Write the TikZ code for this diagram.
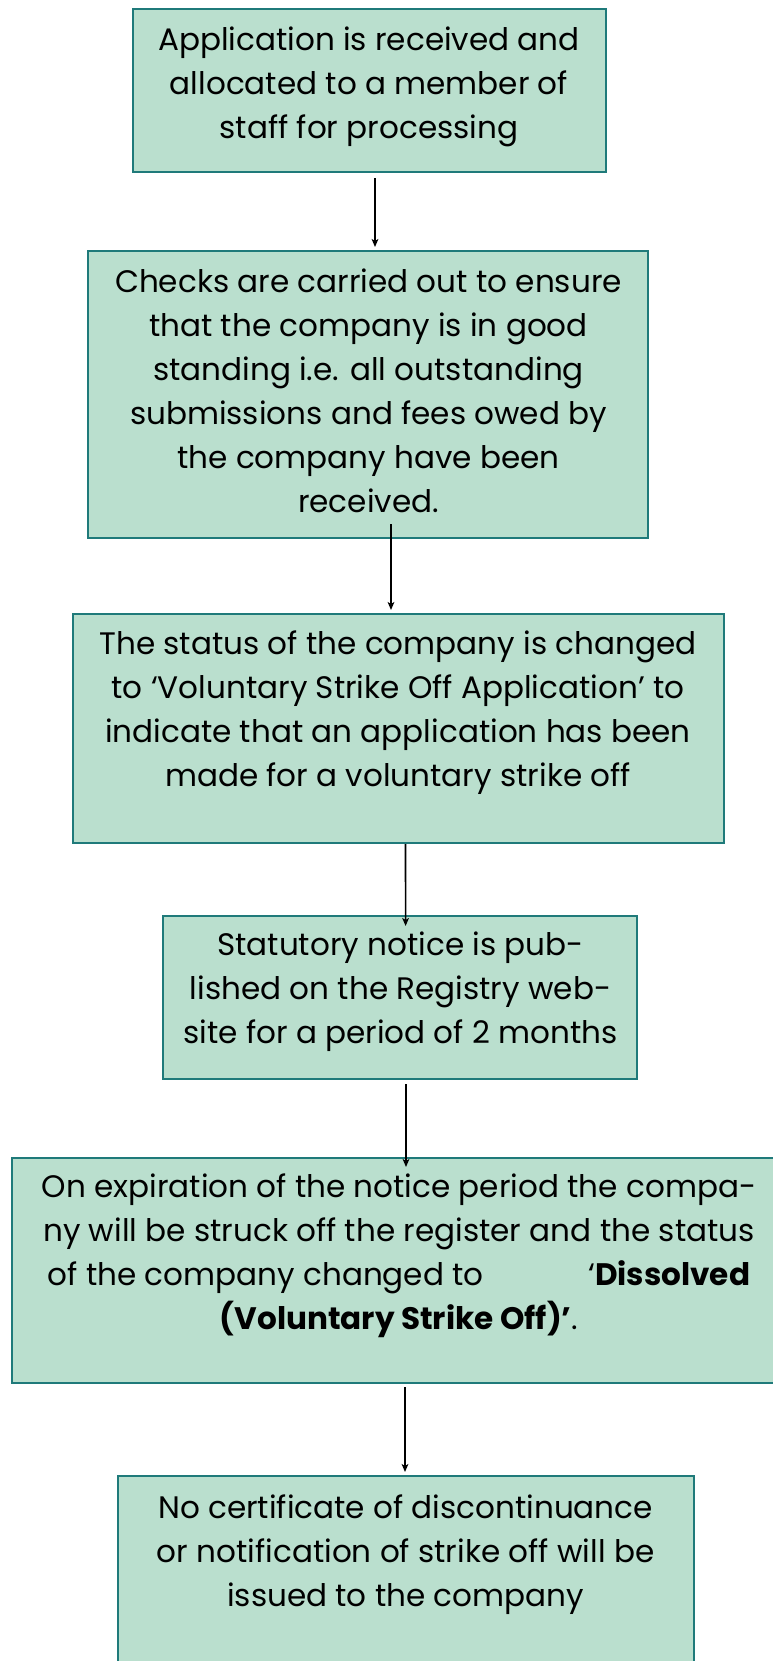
\documentclass[tikz,border=0pt]{standalone}
\usepackage{fontspec}
\setmainfont{Poppins}
\usetikzlibrary{arrows.meta,fit}
\definecolor{boxfill}{RGB}{186,223,206}
\definecolor{boxline}{RGB}{31,122,122}
\tikzset{
  box/.style={draw=boxline, fill=boxfill, line width=1.5pt, inner sep=0pt},
  txt/.style={anchor=north, align=center, inner sep=0pt,
    font=\fontsize{23.3}{33}\selectfont},
  flow/.style={-{Stealth[length=6pt,width=5pt,inset=1.5pt]}, line width=1.2pt}
}
\begin{document}
\begin{tikzpicture}[x=0.75pt,y=0.75pt,yscale=-1,xscale=1]
\useasboundingbox (0,0) rectangle (773,1661);
%Shape: boxes
\node[box, fit={(133,9) (606,172)}] (b1) {};
\node[box, fit={(88,251) (648,538)}] (b2) {};
\node[box, fit={(73,614) (724,843)}] (b3) {};
\node[box, fit={(163,916) (637,1079)}] (b4) {};
\node[box, fit={(12,1158) (790,1383)}] (b5) {};
\node[box, fit={(118,1476) (694,1680)}] (b6) {};
% Text Node
\node[txt] (t1) at (369,27) {Application is received and\\allocated to a member of\\staff for processing};
% Text Node
\node[txt] (t2) at (368.5,269) {Checks are carried out to ensure\\that the company is in good\\standing i.e. all outstanding\\submissions and fees owed by\\the company have been\\received.};
% Text Node
\node[txt] (t3) at (398,630) {The status of the company is changed\\to ‘Voluntary Strike Off Application’ to\\indicate that an application has been\\made for a voluntary strike off};
% Text Node
\node[txt] (t4) at (400.5,932) {Statutory notice is pub-\\lished on the Registry web-\\site for a period of 2 months};
% Text Node
\node[txt] (t5) at (399,1173.5) {On expiration of the notice period the compa-\\ny will be struck off the register and the status\\of the company changed to \hspace{66pt} ‘\textbf{Dissolved}\\\textbf{(Voluntary Strike Off)’}.};
% Text Node
\node[txt] (t6) at (405.6,1494) {No certificate of discontinuance\\or notification of strike off will be\\issued to the company};
%Straight Lines
\draw[flow] ([shift={(5.5,5)}]b1.south) -- ([shift={(7,-3)}]b2.north);
\draw[flow] ([shift={(23,-15)}]b2.south) -- ([shift={(-7.5,-3)}]b3.north);
\draw[flow] ([shift={(7,0)}]b3.south) -- ([shift={(5.6,11)}]b4.north);
\draw[flow] ([shift={(6,4)}]b4.south) -- ([shift={(5,10)}]b5.north);
\draw[flow] ([shift={(4,3)}]b5.south) -- ([shift={(-1,-3)}]b6.north);
\end{tikzpicture}
\end{document}
